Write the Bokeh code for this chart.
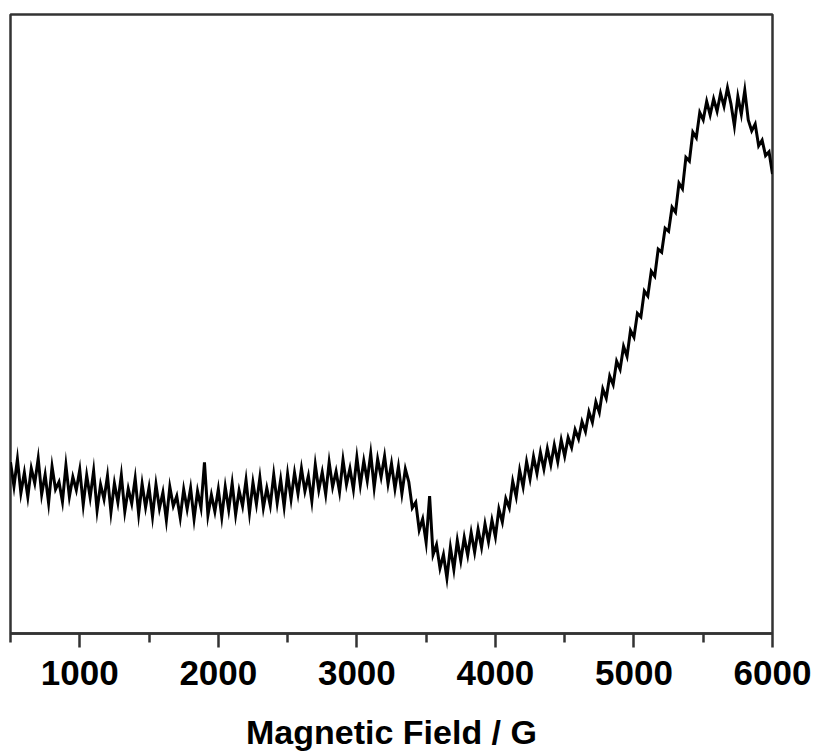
from bokeh.plotting import figure
from bokeh.models import Range1d, FixedTicker
from bokeh.embed import file_html
from bokeh.resources import INLINE

# Magnetic field sample grid (G), 25 G steps from 500 to 6000
field = list(range(500, 6001, 25))

# EPR signal intensity (arbitrary units)
signal = [
    # 500 - 1000
    27.0, 23.1, 27.5, 22.0, 25.3, 21.4, 26.0, 23.6, 27.6, 21.8, 25.0, 20.4, 26.3, 22.6, 23.8, 20.6, 26.5, 21.4, 24.6, 22.5, 25.8,
    # 1025 - 1500
    20.1, 24.9, 21.3, 25.6, 19.2, 23.4, 21.0, 24.8, 18.9, 23.6, 20.5, 24.9, 19.0, 22.7, 20.3, 24.4, 18.6, 23.5, 19.7, 22.9,
    # 1525 - 2000
    18.2, 23.4, 19.5, 22.1, 17.6, 23.0, 19.9, 21.5, 18.0, 22.6, 19.4, 22.8, 17.8, 22.3, 19.6, 27.0, 18.4, 21.7, 19.0, 22.6,
    # 2025 - 2500
    18.1, 23.0, 19.3, 23.6, 18.5, 22.4, 19.9, 24.1, 18.8, 23.7, 20.2, 24.5, 19.6, 22.8, 20.0, 25.0, 20.4, 24.2, 19.8, 25.1,
    # 2525 - 3000
    21.0, 25.3, 21.9, 26.0, 22.3, 24.8, 20.7, 26.6, 22.5, 25.4, 21.8, 27.0, 23.0, 25.5, 22.2, 27.4, 23.4, 26.0, 22.6, 27.8,
    # 3025 - 3350
    23.3, 27.2, 24.0, 28.4, 22.9, 27.5, 24.6, 28.0, 23.5, 26.8, 22.7, 26.3, 21.9, 25.9,
    # 3375 - 3650
    23.8, 19.6, 20.5, 16.0, 17.8, 14.0, 21.5, 12.0, 13.6, 9.8, 12.0, 8.2,
    # 3675 - 4000
    13.2, 9.6, 14.3, 11.0, 14.8, 11.9, 15.6, 12.4, 16.1, 13.2, 17.0, 14.1, 17.6, 14.9,
    # 4025 - 4500
    19.4, 17.3, 21.1, 19.6, 23.9, 21.4, 25.7, 23.0, 27.1, 24.3, 27.9, 25.2, 28.6, 25.9, 29.2, 26.6, 29.8, 27.1, 30.6, 28.0,
    # 4525 - 5000
    31.0, 29.4, 32.3, 30.8, 33.6, 32.0, 35.2, 33.5, 36.8, 35.1, 38.9, 37.4, 41.0, 39.6, 43.4, 42.1, 45.8, 44.2, 48.4, 47.3,
    # 5025 - 5500
    51.2, 50.6, 54.8, 54.0, 58.0, 57.2, 61.6, 61.1, 65.0, 64.5, 68.4, 67.6, 72.3, 71.4, 76.5, 75.9, 80.6, 79.7, 83.8, 82.6,
    # 5525 - 6000
    85.6, 83.4, 86.0, 84.0, 86.9, 84.8, 87.8, 85.2, 81.6, 86.4, 83.5, 87.4, 82.6, 80.8, 81.9, 78.4, 79.3, 76.8, 77.4, 73.8,
]

major_ticks = [1000, 2000, 3000, 4000, 5000, 6000]
minor_ticks = [500, 1500, 2500, 3500, 4500, 5500]
x_title = "Magnetic Field / G"

FONT = "Liberation Sans"

p = figure(width=816, height=755, output_backend="svg", toolbar_location=None,
           x_range=Range1d(500, 6000), y_range=Range1d(-0.8, 99.7),
           y_axis_location=None,
           min_border_left=10, min_border_right=44, min_border_top=14, min_border_bottom=122)

p.line(field, signal, line_color="black", line_width=3, line_join="miter")

p.grid.visible = False
p.outline_line_color = "#333333"
p.outline_line_width = 2.5
p.background_fill_color = "white"
p.border_fill_color = "white"

ax = p.xaxis[0]
ax.ticker = FixedTicker(ticks=major_ticks, minor_ticks=minor_ticks)
ax.axis_line_color = "#333333"
ax.axis_line_width = 2.5
ax.major_tick_line_color = "#333333"
ax.major_tick_line_width = 2.5
ax.major_tick_out = 14
ax.major_tick_in = 0
ax.minor_tick_line_color = "#333333"
ax.minor_tick_line_width = 2.5
ax.minor_tick_out = 9
ax.minor_tick_in = 0
ax.major_label_text_font = FONT
ax.major_label_text_font_style = "bold"
ax.major_label_text_font_size = "35px"
ax.major_label_text_color = "black"
ax.major_label_standoff = 13
ax.axis_label = x_title
ax.axis_label_text_font = FONT
ax.axis_label_text_font_style = "bold"
ax.axis_label_text_font_size = "34px"
ax.axis_label_text_color = "black"
ax.axis_label_standoff = 25

open("out.html", "w").write(file_html(p, INLINE))
